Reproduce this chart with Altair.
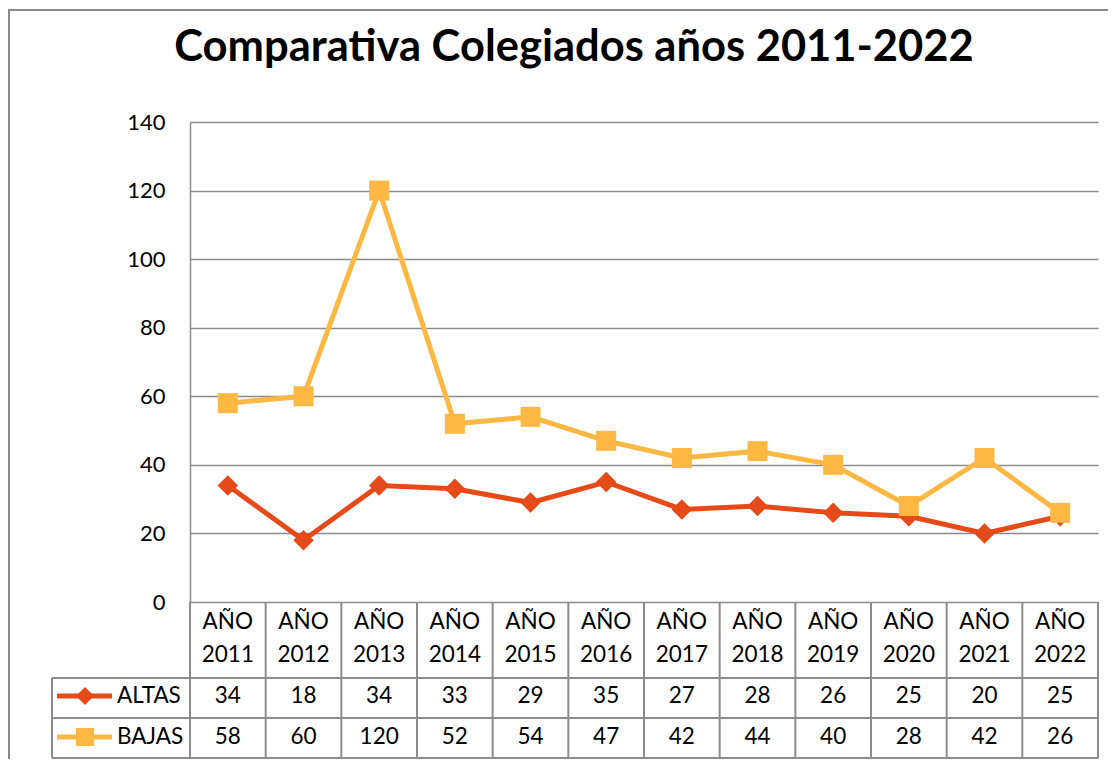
import altair as alt
import pandas as pd

# ---- data ----
years = ["2011", "2012", "2013", "2014", "2015", "2016",
         "2017", "2018", "2019", "2020", "2021", "2022"]
year_prefix = "AÑO"
series_names = ["ALTAS", "BAJAS"]
altas = [34, 18, 34, 33, 29, 35, 27, 28, 26, 25, 20, 25]
bajas = [58, 60, 120, 52, 54, 47, 42, 44, 40, 28, 42, 26]
y_ticks = [0, 20, 40, 60, 80, 100, 120, 140]
title_text = "Comparativa Colegiados años 2011-2022"

# ---- styles ----
colors = ["#E64A19", "#FDB844"]
shapes = ["diamond", "square"]
FONT = "Lato"
GRID = "#8C8C8C"
W, H = 908, 480
row_y = [574, 615]          # table rows (pixels below plot top)
header_y = [500, 533]

series_values = [altas, bajas]
long_df = pd.DataFrame(
    [{"year": y, "series": s, "value": v}
     for s, vals in zip(series_names, series_values)
     for y, v in zip(years, vals)]
)
years_df = pd.DataFrame({"year": years, "l1": [year_prefix] * len(years)})
one = pd.DataFrame({"k": [0]})

xscale = alt.Scale(type="band", domain=years, paddingInner=0, paddingOuter=0)
yscale = alt.Scale(domain=[0, 140], nice=False)


def X(bp):
    return alt.X("year:N", scale=xscale, axis=None, bandPosition=bp, sort=years)


layers = []

# outer chart border
layers.append(
    alt.Chart(one).mark_rect(fill=None, stroke="#8A8A8A", strokeWidth=2).encode(
        x=alt.value(-181), x2=alt.value(940), y=alt.value(-112), y2=alt.value(700)
    )
)

# title
layers.append(
    alt.Chart(pd.DataFrame({"t": [title_text]})).mark_text(
        font=FONT, fontSize=43.5, fontWeight="bold", color="black",
        align="center", baseline="alphabetic"
    ).encode(text="t:N", x=alt.value(384), y=alt.value(-61))
)

# axis / grid
layers.append(
    alt.Chart(long_df).mark_point(opacity=0).encode(
        x=X(0.5),
        y=alt.Y("value:Q", scale=yscale, title=None,
                axis=alt.Axis(values=y_ticks, grid=True, gridColor=GRID, gridWidth=1.5,
                              domain=True, domainColor=GRID, domainWidth=1.5,
                              ticks=False, labelFont=FONT, labelFontSize=22,
                              labelColor="black", labelPadding=25)),
    )
)

# series lines and markers
for s, c, sh in zip(series_names, colors, shapes):
    sub = long_df[long_df["series"] == s]
    layers.append(
        alt.Chart(sub).mark_line(color=c, strokeWidth=5).encode(
            x=X(0.5), y=alt.Y("value:Q", scale=yscale)
        )
    )
    layers.append(
        alt.Chart(sub).mark_point(shape=sh, filled=True, color=c,
                                  size=420 if sh == "diamond" else 400, opacity=1).encode(
            x=X(0.5), y=alt.Y("value:Q", scale=yscale)
        )
    )

# ---- data table ----
tbl_top, r1, r2, tbl_bot = H, 556, 596, 636
left_x = -138
line_style = dict(color=GRID, strokeWidth=2)

layers.append(
    alt.Chart(years_df).mark_rule(**line_style).encode(
        x=X(0), y=alt.value(tbl_top), y2=alt.value(tbl_bot)
    )
)
layers.append(
    alt.Chart(one).mark_rule(**line_style).encode(
        x=alt.value(W), y=alt.value(tbl_top), y2=alt.value(tbl_bot)
    )
)
layers.append(
    alt.Chart(one).mark_rule(**line_style).encode(
        x=alt.value(left_x), y=alt.value(r1), y2=alt.value(tbl_bot)
    )
)
for yy in [r1, r2, tbl_bot]:
    layers.append(
        alt.Chart(one).mark_rule(**line_style).encode(
            x=alt.value(left_x), x2=alt.value(W), y=alt.value(yy)
        )
    )

# header
text_style = dict(font=FONT, fontSize=22.5, color="black", align="center", baseline="middle")
layers.append(
    alt.Chart(years_df).mark_text(**text_style).encode(
        x=X(0.5), y=alt.value(header_y[0]), text="l1:N"
    )
)
layers.append(
    alt.Chart(years_df).mark_text(**text_style).encode(
        x=X(0.5), y=alt.value(header_y[1]), text="year:N"
    )
)

# value rows + legend keys
for s, c, sh, ry in zip(series_names, colors, shapes, row_y):
    sub = long_df[long_df["series"] == s]
    layers.append(
        alt.Chart(sub).mark_text(**text_style).encode(
            x=X(0.5), y=alt.value(ry), text="value:Q"
        )
    )
    key = pd.DataFrame({"series": [s]})
    layers.append(
        alt.Chart(key).mark_rule(color=c, strokeWidth=5).encode(
            x=alt.value(-133), x2=alt.value(-78), y=alt.value(ry)
        )
    )
    layers.append(
        alt.Chart(key).mark_point(shape=sh, filled=True, color=c, size=330, opacity=1).encode(
            x=alt.value(-105), y=alt.value(ry)
        )
    )
    layers.append(
        alt.Chart(key).mark_text(font=FONT, fontSize=22.5, color="black",
                                 align="left", baseline="middle").encode(
            x=alt.value(-73), y=alt.value(ry), text="series:N"
        )
    )

chart = alt.layer(*layers).properties(
    width=W, height=H,
    padding={"left": 182, "top": 114, "right": 10, "bottom": 157},
    autosize=alt.AutoSizeParams(type="none"),
    background="white",
).configure_view(stroke=None)

chart.save("out.html", embed_options={"renderer": "svg", "actions": False})
